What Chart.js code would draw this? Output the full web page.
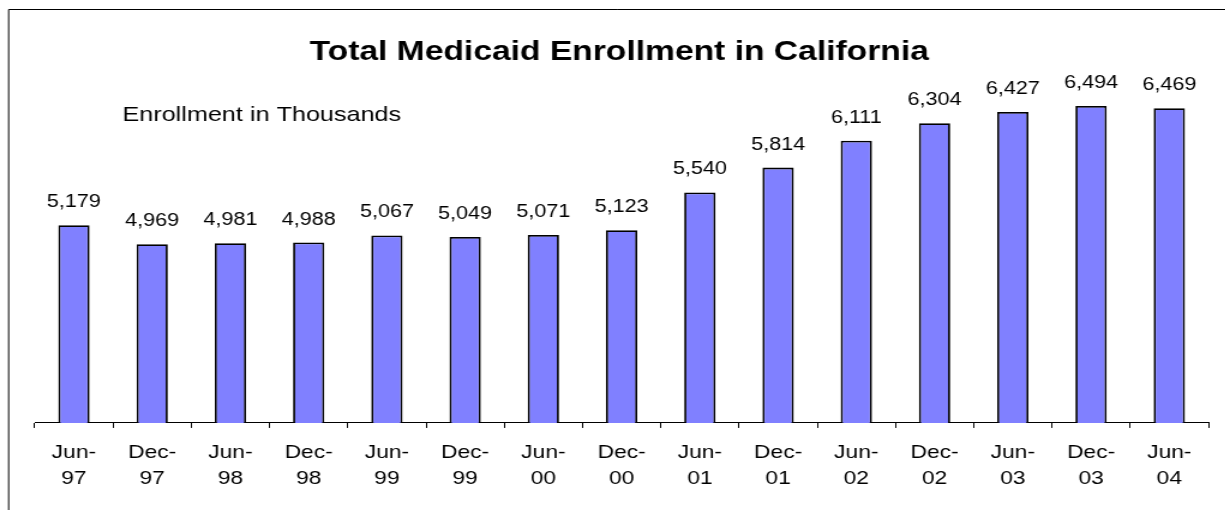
<!DOCTYPE html>
<html>
<head>
<meta charset="utf-8">
<script src="https://cdn.jsdelivr.net/npm/chart.js@4.4.1/dist/chart.umd.min.js"></script>
<style>
    body { margin: 0; background: #fff; overflow: hidden; }
    /* the source picture is stretched horizontally, so stretch the whole canvas the same way */
    #wrap { width: 1021px; height: 510px; transform: scaleX(1.2); transform-origin: 0 0; }
</style>
</head>
<body>
<div id="wrap"><canvas id="chart" width="1021" height="510"></canvas></div>
<script>
// Chart data
const periods = [
    ['Jun-', '97'], ['Dec-', '97'], ['Jun-', '98'], ['Dec-', '98'], ['Jun-', '99'],
    ['Dec-', '99'], ['Jun-', '00'], ['Dec-', '00'], ['Jun-', '01'], ['Dec-', '01'],
    ['Jun-', '02'], ['Dec-', '02'], ['Jun-', '03'], ['Dec-', '03'], ['Jun-', '04']
];
const enrollment = [5179, 4969, 4981, 4988, 5067, 5049, 5071, 5123, 5540, 5814, 6111, 6304, 6427, 6494, 6469];
const chartTitle = 'Total Medicaid Enrollment in California';
const unitNote = 'Enrollment in Thousands';

const FONT = '"Liberation Sans", Arial, sans-serif';

// Frame lines, title and note
const decorPlugin = {
    id: 'decor',
    beforeDraw(chart) {
        const ctx = chart.ctx;
        ctx.save();
        ctx.strokeStyle = '#000';
        ctx.lineWidth = 1;
        ctx.beginPath();
        ctx.moveTo(7.2, chart.height);
        ctx.lineTo(7.2, 9.5);
        ctx.lineTo(chart.width, 9.5);
        ctx.stroke();
        ctx.restore();
    },
    afterDraw(chart) {
        const ctx = chart.ctx;
        ctx.save();
        ctx.fillStyle = '#000';
        ctx.textAlign = 'center';
        ctx.textBaseline = 'alphabetic';
        ctx.font = 'bold 28px ' + FONT;
        ctx.fillText(chartTitle, 516, 60);
        ctx.textAlign = 'left';
        ctx.font = '21px ' + FONT;
        ctx.fillText(unitNote, 102, 121);
        ctx.restore();
    }
};

// Value labels above each bar
const valueLabels = {
    id: 'valueLabels',
    afterDatasetsDraw(chart) {
        const ctx = chart.ctx;
        const meta = chart.getDatasetMeta(0);
        ctx.save();
        ctx.fillStyle = '#000';
        ctx.font = '18px ' + FONT;
        ctx.textAlign = 'center';
        ctx.textBaseline = 'alphabetic';
        meta.data.forEach((bar, i) => {
            ctx.fillText(enrollment[i].toLocaleString('en-US'), bar.x, bar.y - 18);
        });
        ctx.restore();
    }
};

const ctx = document.getElementById('chart').getContext('2d');
const chart = new Chart(ctx, {
    type: 'bar',
    data: {
        labels: periods,
        datasets: [{
            data: enrollment,
            backgroundColor: '#8080ff',
            borderColor: '#000',
            borderWidth: 1.8,
            borderSkipped: 'bottom',
            categoryPercentage: 1,
            barPercentage: 0.4
        }]
    },
    options: {
        responsive: false,
        animation: false,
        devicePixelRatio: 1,
        layout: {
            padding: { left: 29, right: 14, top: 60, bottom: 6 }
        },
        scales: {
            y: {
                display: false,
                min: 3000,
                max: 7000
            },
            x: {
                grid: {
                    offset: true,
                    drawOnChartArea: false,
                    drawTicks: true,
                    tickLength: 5,
                    color: '#000',
                    lineWidth: 1
                },
                border: { display: true, color: '#000', width: 1 },
                ticks: {
                    color: '#000',
                    padding: 12,
                    maxRotation: 0,
                    autoSkip: false,
                    font: { family: FONT, size: 19, lineHeight: 1.37 }
                }
            }
        },
        plugins: {
            legend: { display: false },
            tooltip: { enabled: false }
        }
    },
    plugins: [decorPlugin, valueLabels]
});
</script>
</body>
</html>
